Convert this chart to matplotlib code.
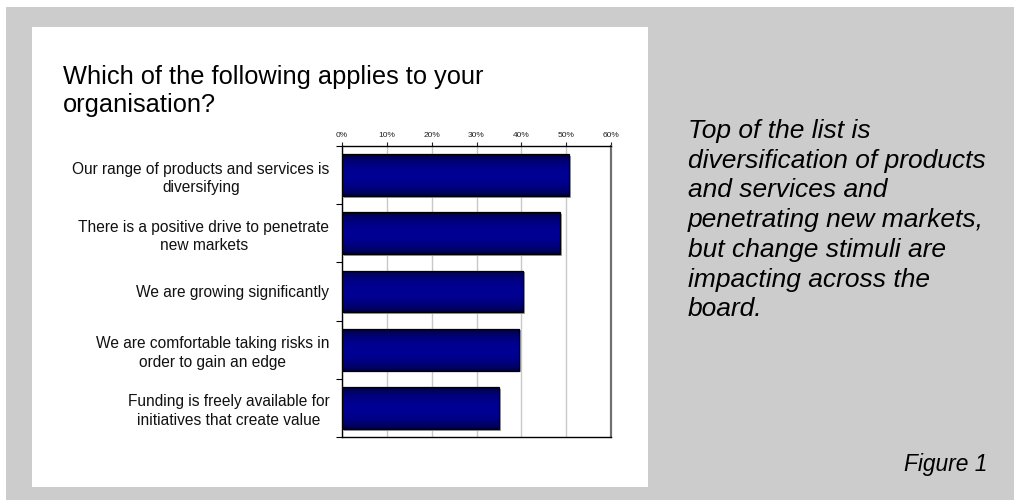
import numpy as np
import matplotlib
matplotlib.use("Agg")
import matplotlib.pyplot as plt
from matplotlib.patches import Rectangle
from matplotlib.ticker import FixedLocator, PercentFormatter
from matplotlib.transforms import ScaledTranslation

plt.rcParams['font.family'] = ['Liberation Sans', 'DejaVu Sans']

# Survey responses (share of respondents agreeing)
statements = [
    "Our range of products and services is\ndiversifying",
    "There is a positive drive to penetrate\nnew markets",
    "We are growing significantly",
    "We are comfortable taking risks in\norder to gain an edge",
    "Funding is freely available for\ninitiatives that create value",
]
shares = [50.6, 48.6, 40.4, 39.5, 35.0]
x_ticks = [0, 10, 20, 30, 40, 50, 60]

title = "Which of the following applies to your\norganisation?"
commentary = ("Top of the list is\ndiversification of products\nand services and\n"
              "penetrating new markets,\nbut change stimuli are\nimpacting across the\nboard.")
caption = "Figure 1"

W, H = 1014, 500
fig = plt.figure(figsize=(W / 100, H / 100), dpi=100)
fig.patch.set_facecolor("white")

# Grey backdrop and white chart card
fig.add_artist(Rectangle((6 / W, 0), 1, (H - 7) / H, transform=fig.transFigure,
                         facecolor="#cccccc", edgecolor="none", zorder=0))
fig.add_artist(Rectangle((32 / W, 13 / H), 616 / W, 460 / H, transform=fig.transFigure,
                         facecolor="white", edgecolor="none", zorder=0))

ax = fig.add_axes([342 / W, 1 - 437 / H, 269 / W, 291 / H])
ax.set_facecolor("white")
ax.set_zorder(2)

y = np.arange(len(statements))
bars = ax.barh(y, shares, height=0.72, facecolor="none", edgecolor="black",
               linewidth=0.9, zorder=4)

# Vertical gradient fill: dark at the edges, brighter navy in the middle
t = np.linspace(0, 1, 64)
prof = (1 - (2 * t - 1) ** 2) ** 0.6
grad = np.zeros((64, 1, 3))
grad[:, 0, 2] = 0.18 + 0.40 * prof
shadow_shift = ax.transData + ScaledTranslation(1.2 / 72, -1.2 / 72, fig.dpi_scale_trans)
for b in bars:
    x0, y0 = b.get_x(), b.get_y()
    w, h = b.get_width(), b.get_height()
    ax.add_patch(Rectangle((x0, y0), w, h, transform=shadow_shift,
                           facecolor="#a0a0a0", edgecolor="none", zorder=3))
    im = ax.imshow(grad, extent=[x0, x0 + w, y0, y0 + h], aspect="auto",
                   interpolation="bicubic", zorder=3.5, origin="lower")
    im.set_clip_path(b)

ax.set_xlim(0, 60)
ax.set_ylim(len(statements) - 0.5, -0.5)
ax.xaxis.set_major_locator(FixedLocator(x_ticks))
ax.xaxis.set_major_formatter(PercentFormatter(decimals=0))
ax.xaxis.tick_top()
ax.tick_params(axis="x", which="major", direction="out", length=3, width=0.8,
               labelsize=6, pad=2, colors="#222222")
ax.grid(axis="x", color="#c8c8c8", linewidth=1.0, zorder=1)
ax.set_axisbelow(True)

ax.set_yticks(y)
ax.set_yticklabels(statements, fontsize=11.2, linespacing=1.3)
for lab in ax.get_yticklabels():
    lab.set_multialignment("center")
ax.yaxis.set_minor_locator(FixedLocator(np.arange(-0.5, len(statements), 1.0)))
ax.tick_params(axis="y", which="major", length=0, pad=9, colors="#111111")
ax.tick_params(axis="y", which="minor", length=4, width=0.8, direction="out")

for side in ("left", "top", "bottom"):
    ax.spines[side].set_color("black")
    ax.spines[side].set_linewidth(1.0)
ax.spines["right"].set_color("#707070")
ax.spines["right"].set_linewidth(1.6)

fig.text(63 / W, 1 - 65 / H, title, fontsize=18.3, va="top", ha="left",
         linespacing=1.2, color="black")
fig.text(688 / W, 1 - 119 / H, commentary, fontsize=19, style="italic",
         va="top", ha="left", linespacing=1.3, color="black")
fig.text(987 / W, 1 - 465 / H, caption, fontsize=16.4, style="italic",
         va="center", ha="right", color="black")

fig.savefig("out.png", dpi=100, facecolor=fig.get_facecolor())
